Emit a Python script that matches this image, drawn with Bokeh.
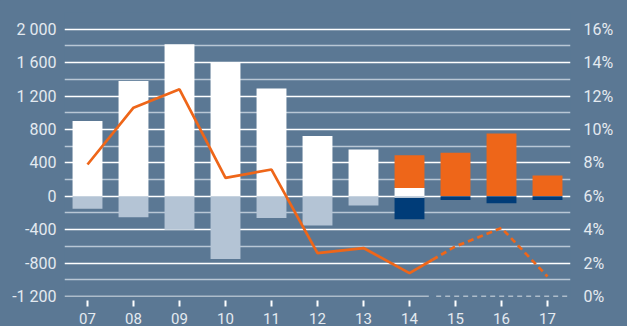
from bokeh.plotting import figure
from bokeh.models import (ColumnDataSource, LinearAxis, Range1d, FixedTicker,
                          PrintfTickFormatter)
from bokeh.embed import file_html
from bokeh.resources import INLINE

# ---- data ----
years = ["07", "08", "09", "10", "11", "12", "13", "14", "15", "16", "17"]
existing_pos = [900, 1380, 1820, 1600, 1290, 720, 560, 100, 0, 0, 0]
new_pos = [0, 0, 0, 0, 0, 0, 0, 390, 520, 750, 250]
existing_neg = [-150, -250, -400, -750, -260, -350, -110, -20, 0, 0, 0]
new_neg = [0, 0, 0, 0, 0, 0, 0, -255, -45, -85, -45]
rate_pct = [7.9, 11.3, 12.4, 7.1, 7.6, 2.6, 2.9, 1.4, 3.0, 4.1, 1.2]
first_forecast = 8  # index of "15"
left_ticks = [-1200, -800, -400, 0, 400, 800, 1200, 1600, 2000]
left_labels = ["-1 200", "-800", "-400", "0", "400", "800", "1 200", "1 600", "2 000"]
right_ticks = [0, 2, 4, 6, 8, 10, 12, 14, 16]

BG = "#5b7894"
ORANGE = "#ee6619"
NAVY = "#003c78"
LIGHT = "#b4c4d5"
MINOR = "#b9c7d5"
TXT = "#e4eaf0"
FONT = "Roboto"

Y0, Y1 = -1200, 2200
x = list(range(len(years)))
src = ColumnDataSource(dict(x=x, ep=existing_pos, np_=new_pos, en=existing_neg, nn=new_neg))

p = figure(width=627, height=326, output_backend="svg", toolbar_location=None,
           x_range=Range1d(-0.5, len(years) - 0.5), y_range=Range1d(Y0, Y1),
           min_border_left=64, min_border_right=57, min_border_top=12, min_border_bottom=30)
p.background_fill_color = BG
p.border_fill_color = BG
p.outline_line_color = None
p.styles = {"background-color": BG}

# grid
p.xgrid.visible = False
p.ygrid.ticker = FixedTicker(ticks=[t for t in left_ticks if t > Y0],
                             minor_ticks=list(range(Y0 + 200, Y1 + 1, 400)))
p.ygrid.grid_line_color = "white"
p.ygrid.grid_line_width = 1.3
p.ygrid.minor_grid_line_color = MINOR
p.ygrid.minor_grid_line_width = 1.3

# bottom baseline: solid for actuals, dashed for forecast
split = first_forecast - 0.5
p.segment(x0=[-0.5], y0=[Y0], x1=[split - 0.08], y1=[Y0], line_color="white", line_width=1.4)
p.segment(x0=[split + 0.08], y0=[Y0], x1=[len(years) - 0.5], y1=[Y0],
          line_color="white", line_width=1.4, line_dash="5 4")

w = 0.65
p.vbar_stack(["ep", "np_"], x="x", width=w, color=["white", ORANGE], source=src, line_color=None)
p.vbar_stack(["en", "nn"], x="x", width=w, color=[LIGHT, NAVY], source=src, line_color=None)

# rate line on right axis
p.extra_y_ranges = {"pct": Range1d(0, 17)}
mid_val = (rate_pct[first_forecast - 1] + rate_pct[first_forecast]) / 2
solid_x = x[:first_forecast] + [split]
solid_y = rate_pct[:first_forecast] + [mid_val]
dash_x = [split] + x[first_forecast:]
dash_y = [mid_val] + rate_pct[first_forecast:]
p.line(solid_x, solid_y, y_range_name="pct", line_color=ORANGE, line_width=2.7)
p.line(dash_x, dash_y, y_range_name="pct", line_color=ORANGE, line_width=2.7, line_dash="6 4")

# axes
ya = p.yaxis[0]
ya.ticker = FixedTicker(ticks=left_ticks)
ya.major_label_overrides = {t: l for t, l in zip(left_ticks, left_labels)}
ra = LinearAxis(y_range_name="pct", ticker=FixedTicker(ticks=right_ticks),
                formatter=PrintfTickFormatter(format="%d%%"))
p.add_layout(ra, "right")
for ax in (ya, ra):
    ax.axis_line_color = None
    ax.major_tick_line_color = None
    ax.minor_tick_line_color = None
    ax.major_tick_out = 0
    ax.major_tick_in = 0
    ax.minor_tick_out = 0
    ax.minor_tick_in = 0
    ax.major_label_text_color = TXT
    ax.major_label_text_font = FONT
    ax.major_label_text_font_size = "16px"
ya.major_label_standoff = 8
ra.major_label_standoff = 13

xa = p.xaxis[0]
xa.ticker = FixedTicker(ticks=x)
xa.major_label_overrides = {i: y for i, y in zip(x, years)}
xa.axis_line_color = None
xa.minor_tick_line_color = None
xa.major_tick_line_color = "white"
xa.major_tick_line_width = 2
xa.major_tick_in = -4
xa.major_tick_out = 10
xa.major_label_standoff = 6
xa.major_label_text_color = TXT
xa.major_label_text_font = FONT
xa.major_label_text_font_size = "15px"

open("out.html", "w").write(file_html(p, INLINE))
